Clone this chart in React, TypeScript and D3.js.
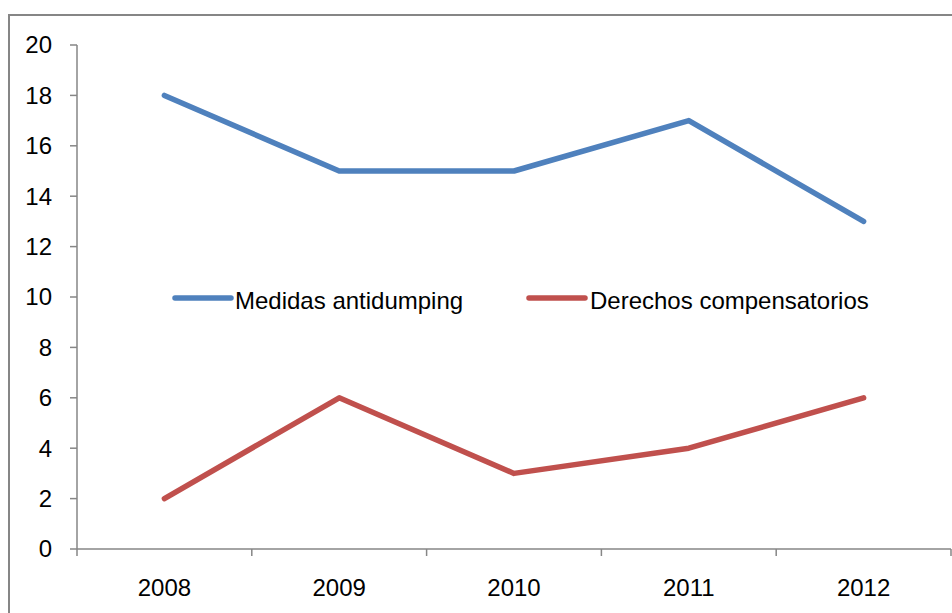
import React from "react";
import * as d3 from "d3";

const years = ["2008", "2009", "2010", "2011", "2012"];
const antidumping = [18, 15, 15, 17, 13];
const compensatorios = [2, 6, 3, 4, 6];
const yTicks = [0, 2, 4, 6, 8, 10, 12, 14, 16, 18, 20];
const seriesNames = ["Medidas antidumping", "Derechos compensatorios"];
const seriesColors = ["#4F81BD", "#C0504D"];

export default function App() {
  const W = 952, H = 613;
  const left = 77, right = 951, top = 45, bottom = 549;
  const x = d3.scaleBand<string>().domain(years).range([left, right]);
  const y = d3.scaleLinear().domain([0, 20]).range([bottom, top]);
  const line = d3.line<number>().x((_, i) => (x(years[i]) as number) + x.bandwidth() / 2).y(d => y(d));
  const series = [antidumping, compensatorios];
  const font = "'Liberation Sans', Arial, sans-serif";
  const axisColor = "#868686";
  const legendItems = [
    { x1: 175, x2: 231, tx: 235 },
    { x1: 529, x2: 585, tx: 590 },
  ];
  return (
    <svg width={W} height={H} style={{ position: "absolute", left: 0, top: 0, background: "#fff" }} fontFamily={font}>
      <rect x={9} y={15} width={W} height={H} fill="#fff" stroke={axisColor} strokeWidth={2} />
      {/* y axis */}
      <line x1={left} x2={left} y1={top} y2={bottom} stroke={axisColor} strokeWidth={1.5} />
      {yTicks.map(t => (
        <g key={t}>
          <line x1={left - 7} x2={left} y1={y(t)} y2={y(t)} stroke={axisColor} strokeWidth={1.5} />
          <text x={52} y={y(t)} dy="0.35em" textAnchor="end" fontSize={24} fill="#000">{t}</text>
        </g>
      ))}
      {/* x axis */}
      <line x1={left} x2={right} y1={bottom} y2={bottom} stroke={axisColor} strokeWidth={1.5} />
      {years.map(yr => (
        <line key={yr} x1={x(yr) as number} x2={x(yr) as number} y1={bottom} y2={bottom + 7} stroke={axisColor} strokeWidth={1.5} />
      ))}
      <line x1={right} x2={right} y1={bottom} y2={bottom + 7} stroke={axisColor} strokeWidth={1.5} />
      {years.map(yr => (
        <text key={yr} x={(x(yr) as number) + x.bandwidth() / 2} y={596} textAnchor="middle" fontSize={24} fill="#000">{yr}</text>
      ))}
      {series.map((s, i) => (
        <path key={i} d={line(s) as string} fill="none" stroke={seriesColors[i]} strokeWidth={5.5} strokeLinecap="round" strokeLinejoin="round" />
      ))}
      {legendItems.map((l, i) => (
        <g key={i}>
          <line x1={l.x1} x2={l.x2} y1={298} y2={298} stroke={seriesColors[i]} strokeWidth={5.5} strokeLinecap="round" />
          <text x={l.tx} y={309} fontSize={24} fill="#000">{seriesNames[i]}</text>
        </g>
      ))}
    </svg>
  );
}
